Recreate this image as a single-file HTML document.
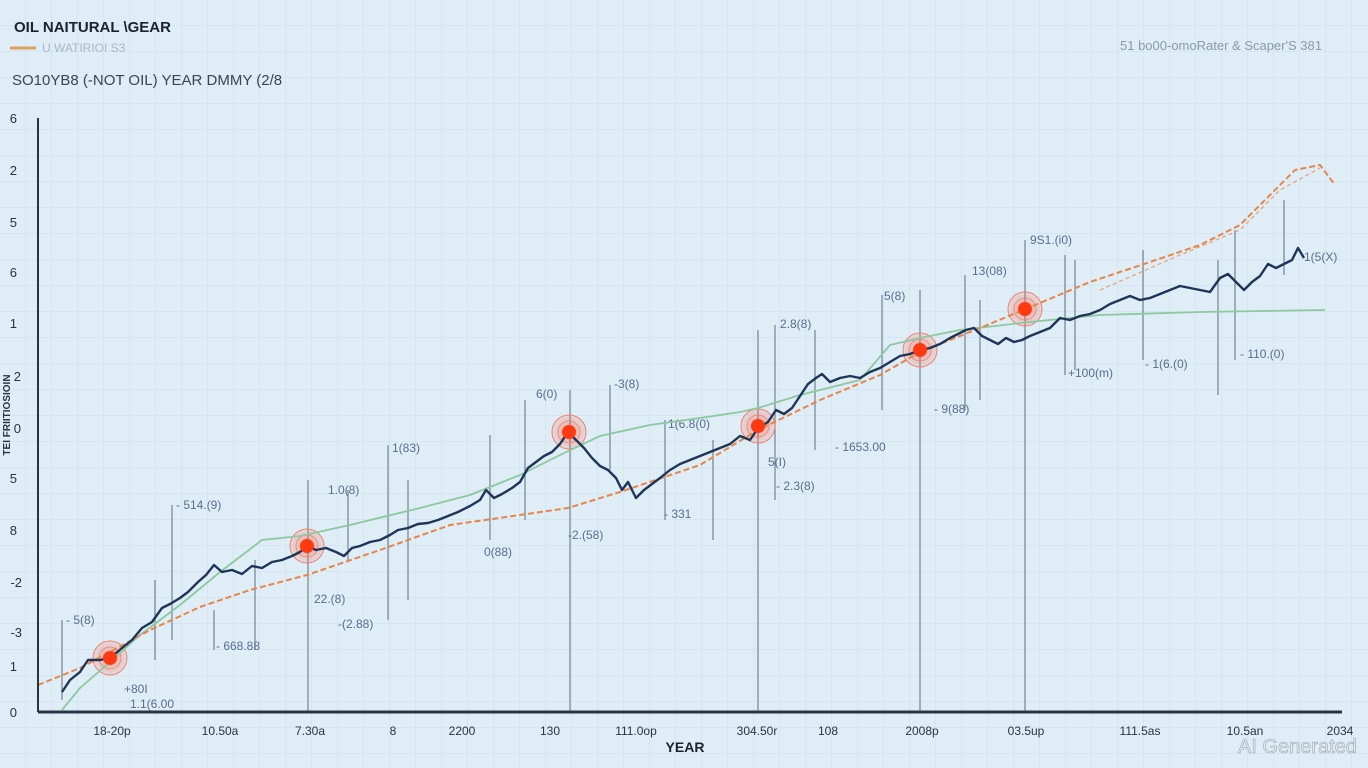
<!DOCTYPE html>
<html><head><meta charset="utf-8"><style>
html,body{margin:0;padding:0;width:1368px;height:768px;overflow:hidden;background:#deedf6}
svg{display:block}
text{font-family:"Liberation Sans",sans-serif}
</style></head><body>
<svg width="1368" height="768" viewBox="0 0 1368 768" xmlns="http://www.w3.org/2000/svg">
<defs>
<pattern id="g" width="26" height="26" patternUnits="userSpaceOnUse">
<path d="M26 0V26M0 26H26" stroke="#cfe0ea" stroke-width="1" fill="none"/>
</pattern>
<radialGradient id="rg"><stop offset="0" stop-color="#ff4a20" stop-opacity="0.5"/><stop offset="1" stop-color="#ff6a50" stop-opacity="0.15"/></radialGradient>
</defs>
<rect width="1368" height="768" fill="#deedf6"/>
<rect width="1368" height="768" fill="url(#g)"/>
<text x="14" y="32" font-size="15" font-weight="bold" fill="#1c2230">OIL NAITURAL \GEAR</text>
<line x1="10" y1="48" x2="36" y2="48" stroke="#e0a060" stroke-width="3"/>
<text x="42" y="52" font-size="12" fill="#a8b8c8">U WATIRIOI S3</text>
<text x="12" y="85" font-size="15" fill="#3a4556">SO10YB8 (-NOT OIL) YEAR DMMY (2/8</text>
<text x="1120" y="50" font-size="13" fill="#8a9aab">51 bo00-omoRater &amp; Scaper'S 381</text>
<g stroke="#5a6a78" stroke-width="1.2" opacity="0.8">
<line x1="62" y1="620" x2="62" y2="700"/><line x1="155" y1="580" x2="155" y2="660"/><line x1="172" y1="505" x2="172" y2="640"/>
<line x1="214" y1="610" x2="214" y2="650"/><line x1="255" y1="560" x2="255" y2="650"/><line x1="308" y1="480" x2="308" y2="712"/>
<line x1="348" y1="490" x2="348" y2="560"/><line x1="388" y1="445" x2="388" y2="620"/><line x1="408" y1="480" x2="408" y2="600"/>
<line x1="490" y1="435" x2="490" y2="540"/><line x1="525" y1="400" x2="525" y2="520"/><line x1="570" y1="390" x2="570" y2="712"/>
<line x1="610" y1="385" x2="610" y2="470"/><line x1="665" y1="420" x2="665" y2="520"/><line x1="713" y1="440" x2="713" y2="540"/>
<line x1="758" y1="330" x2="758" y2="712"/><line x1="775" y1="325" x2="775" y2="500"/><line x1="815" y1="330" x2="815" y2="450"/>
<line x1="882" y1="295" x2="882" y2="410"/><line x1="920" y1="290" x2="920" y2="712"/><line x1="965" y1="275" x2="965" y2="410"/>
<line x1="980" y1="300" x2="980" y2="400"/><line x1="1025" y1="240" x2="1025" y2="712"/><line x1="1065" y1="255" x2="1065" y2="375"/>
<line x1="1075" y1="260" x2="1075" y2="370"/><line x1="1143" y1="250" x2="1143" y2="360"/><line x1="1218" y1="260" x2="1218" y2="395"/>
<line x1="1235" y1="230" x2="1235" y2="360"/><line x1="1284" y1="200" x2="1284" y2="275"/>
</g>
<g font-size="12" fill="#5a6e8a">
<text x="66" y="624">- 5(8)</text><text x="176" y="509">- 514.(9)</text><text x="216" y="650">- 668.88</text>
<text x="124" y="693">+80I</text><text x="130" y="708">1.1(6.00</text><text x="314" y="603">22.(8)</text><text x="338" y="628">-(2.88)</text>
<text x="328" y="494">1.0(8)</text><text x="392" y="452">1(83)</text><text x="484" y="556">0(88)</text><text x="536" y="398">6(0)</text>
<text x="614" y="388">-3(8)</text><text x="568" y="539">-2.(58)</text><text x="668" y="428">1(6.8(0)</text><text x="664" y="518">- 331</text>
<text x="768" y="466">5(I)</text><text x="776" y="490">- 2.3(8)</text><text x="780" y="328">2.8(8)</text><text x="835" y="451">- 1653.00</text>
<text x="884" y="300">5(8)</text><text x="934" y="413">- 9(88)</text><text x="972" y="275">13(08)</text><text x="1030" y="244">9S1.(i0)</text>
<text x="1068" y="377">+100(m)</text><text x="1145" y="368">- 1(6.(0)</text><text x="1240" y="358">- 110.(0)</text><text x="1304" y="261">1(5(X)</text>
</g>
<g fill="url(#rg)" stroke="#f08070" stroke-width="1">
<circle cx="110" cy="658" r="17"/><circle cx="307" cy="546" r="17"/><circle cx="569" cy="432" r="17"/>
<circle cx="758" cy="426" r="17"/><circle cx="920" cy="350" r="17"/><circle cx="1025" cy="309" r="17"/>
</g>
<g fill="none" stroke="#f08070" stroke-width="0.8">
<circle cx="110" cy="658" r="11"/><circle cx="307" cy="546" r="11"/><circle cx="569" cy="432" r="11"/>
<circle cx="758" cy="426" r="11"/><circle cx="920" cy="350" r="11"/><circle cx="1025" cy="309" r="11"/>
</g>
<polyline fill="none" stroke="#8cc8a0" stroke-width="1.8" points="62,710 80,688 110,662 140,635 180,605 220,572 262,540 300,536 350,525 420,508 470,495 520,475 560,455 600,436 650,425 700,418 740,412 758,408 800,395 860,380 890,345 920,338 960,330 1030,322 1100,315 1200,312 1325,310"/>
<polyline fill="none" stroke="#e8844a" stroke-width="2" stroke-dasharray="6,3" points="38,685 80,668 110,652 150,630 200,607 250,590 307,575 380,550 450,525 520,515 568,508 620,492 700,465 758,430 820,400 880,375 920,352 980,328 1028,308 1090,282 1150,262 1200,245 1240,225 1270,195 1295,170 1320,165 1335,185"/>
<polyline fill="none" stroke="#e8a070" stroke-width="1.2" stroke-dasharray="4,3" points="1100,290 1180,255 1240,230 1280,190 1320,168"/>
<polyline fill="none" stroke="#1e3558" stroke-width="2.4" stroke-linejoin="round" points="62,692 70,680 80,672 88,660 100,660 110,658 122,648 132,640 142,628 152,622 162,608 170,604 180,598 188,592 198,582 206,575 214,565 222,572 232,570 242,574 252,566 262,568 272,562 282,560 292,556 300,552 307,546 316,550 326,548 336,552 344,556 352,548 360,546 370,542 380,540 390,535 398,530 408,528 418,524 428,523 438,520 448,516 458,512 470,506 480,500 486,490 494,498 502,494 512,488 520,482 528,468 536,462 544,456 552,452 560,444 568,432 576,440 584,448 592,458 600,466 608,470 616,478 622,490 628,482 636,498 644,490 652,484 660,478 670,470 680,464 690,460 700,456 710,452 720,448 730,444 740,436 750,440 758,428 768,422 776,410 784,414 792,408 800,396 808,384 816,378 822,374 830,382 840,378 850,376 860,378 870,372 880,368 890,362 900,356 910,354 920,350 930,348 940,344 950,338 958,334 966,330 974,328 982,336 990,340 998,344 1006,338 1014,342 1022,340 1030,336 1040,332 1050,328 1060,318 1070,320 1080,316 1090,314 1100,310 1110,304 1120,300 1130,296 1140,300 1150,298 1160,294 1170,290 1180,286 1190,288 1200,290 1210,292 1220,278 1228,274 1236,282 1244,290 1252,282 1260,276 1268,264 1276,268 1284,264 1292,260 1298,248 1304,258"/>
<g fill="#ff3a10"><circle cx="110" cy="658" r="7"/><circle cx="307" cy="546" r="7"/><circle cx="569" cy="432" r="7"/><circle cx="758" cy="426" r="7"/><circle cx="920" cy="350" r="7"/><circle cx="1025" cy="309" r="7"/></g>
<line x1="38" y1="118" x2="38" y2="712" stroke="#2a3444" stroke-width="2"/>
<line x1="38" y1="712" x2="1342" y2="712" stroke="#2a3444" stroke-width="3"/>
<g font-size="13" fill="#2a3444" text-anchor="end">
<text x="17" y="123">6</text><text x="17" y="175">2</text><text x="17" y="227">5</text><text x="17" y="277">6</text>
<text x="17" y="328">1</text><text x="21" y="381">2</text><text x="21" y="433">0</text><text x="17" y="483">5</text>
<text x="17" y="535">8</text><text x="22" y="587">-2</text><text x="22" y="637">-3</text><text x="17" y="671">1</text><text x="17" y="717">0</text>
</g>
<text x="10" y="415" font-size="10" font-weight="bold" fill="#2a3444" transform="rotate(-90 10 415)" text-anchor="middle">TEI FRIITIOSIOIN</text>
<g font-size="12" fill="#2a3444" text-anchor="middle">
<text x="112" y="735">18-20p</text><text x="220" y="735">10.50a</text><text x="310" y="735">7.30a</text><text x="393" y="735">8</text>
<text x="462" y="735">2200</text><text x="550" y="735">130</text><text x="636" y="735">111.0op</text><text x="757" y="735">304.50r</text>
<text x="828" y="735">108</text><text x="922" y="735">2008p</text><text x="1026" y="735">03.5up</text><text x="1140" y="735">111.5as</text>
<text x="1245" y="735">10.5an</text><text x="1340" y="735">2034</text>
</g>
<text x="685" y="752" font-size="14" font-weight="bold" fill="#1c2230" text-anchor="middle">YEAR</text>
<text x="1357" y="753" font-size="20" fill="#e8eef3" stroke="#9aa5b0" stroke-width="0.6" text-anchor="end">AI Generated</text>
</svg>
</body></html>
